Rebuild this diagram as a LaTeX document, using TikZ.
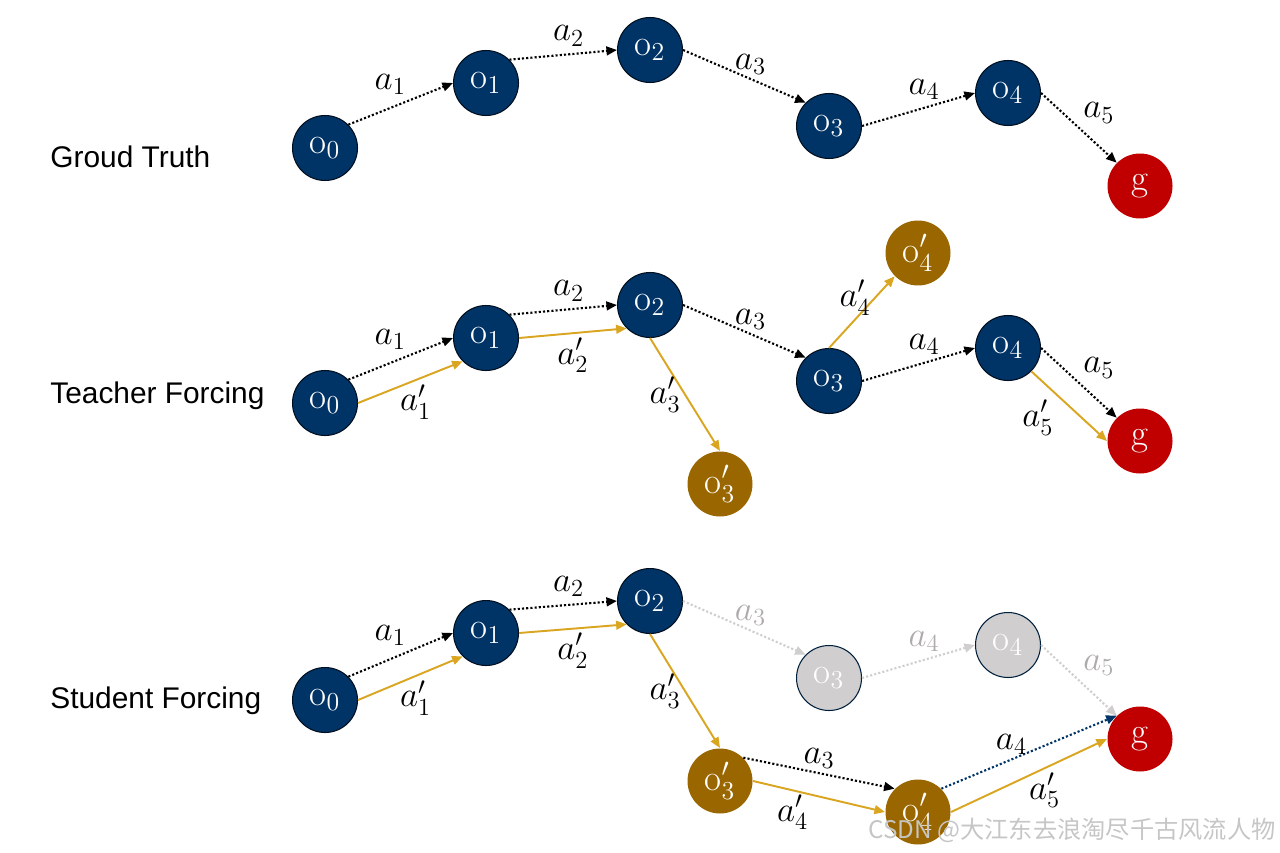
\documentclass[tikz,border=0pt]{standalone}
\usepackage{fix-cm}
\usepackage{fontspec}
\newfontfamily\arialfont{Liberation Sans}
\newfontfamily\cjkfont{Noto Sans CJK SC}
\usetikzlibrary{arrows.meta}

\definecolor{navy}{RGB}{0,51,102}
\definecolor{ochre}{RGB}{153,102,0}
\definecolor{gold}{RGB}{218,165,32}
\definecolor{goal}{RGB}{192,0,0}
\definecolor{ghost}{RGB}{208,206,206}
\definecolor{ghosttext}{RGB}{175,171,171}

\begin{document}
\begin{tikzpicture}[x=0.02cm, y=-0.02cm,
  obs/.style ={circle, draw=black!70!navy, line width=0.6pt, fill=navy,
               text=white, minimum size=1.3cm, inner sep=0pt,
               font=\fontsize{21}{24}\selectfont},
  pred/.style={obs, draw=none, fill=ochre},
  goalnode/.style={obs, draw=none, fill=goal},
  faded/.style={obs, fill=ghost, draw=navy!60!black},
  act/.style ={-{Triangle[length=6pt,width=5pt]}, line width=1.2pt,
               dash pattern=on 1.2pt off 1.2pt},
  alt/.style ={-{Triangle[length=6pt,width=5pt]}, line width=1.1pt, gold},
  lbl/.style ={font=\fontsize{20}{24}\selectfont, inner sep=2pt, text=black},
  row/.style ={anchor=west, inner sep=0pt,
               font=\arialfont\fontsize{17}{20}\selectfont},
]
\useasboundingbox (0,0) rectangle (1280,852);

% ground truth
\node[row]      (gt)  at (50,157)   {Groud Truth};
\node[obs]      (gt0) at (325,148)  {$\mathrm{o}_0$};
\node[obs]      (gt1) at (486,83)   {$\mathrm{o}_1$};
\node[obs]      (gt2) at (650,50)   {$\mathrm{o}_2$};
\node[obs]      (gt3) at (829,126)  {$\mathrm{o}_3$};
\node[obs]      (gt4) at (1008,93)  {$\mathrm{o}_4$};
\node[goalnode] (gtg) at (1140,186) {$\mathrm{g}$};

\draw[act] (gt0.45) -- node[lbl, pos=.4, above=5pt] {$a_1$} (gt1.180);
\draw[act] (gt1.45) -- node[lbl, pos=.55, above=2pt] {$a_2$} (gt2.180);
\draw[act] (gt2.0)  -- node[lbl, pos=.55, above]    {$a_3$} (gt3.135);
\draw[act] (gt3.0)  -- node[lbl, pos=.55, above=2pt] {$a_4$} (gt4.180);
\draw[act] (gt4.0)  -- node[lbl, above right]       {$a_5$} (gtg.135);

% teacher forcing
\node[row]      (tf)   at (50,396)   {Teacher Forcing};
\node[obs]      (tf0)  at (325,403)  {$\mathrm{o}_0$};
\node[obs]      (tf1)  at (486,338)  {$\mathrm{o}_1$};
\node[obs]      (tf2)  at (650,305)  {$\mathrm{o}_2$};
\node[obs]      (tf3)  at (829,381)  {$\mathrm{o}_3$};
\node[obs]      (tf4)  at (1008,348) {$\mathrm{o}_4$};
\node[goalnode] (tfg)  at (1140,441) {$\mathrm{g}$};
\node[pred]     (tf3p) at (720,484)  {$\mathrm{o}'_3$};
\node[pred]     (tf4p) at (918,253)  {$\mathrm{o}'_4$};

\draw[act] (tf0.45)  -- node[lbl, pos=.4, above=5pt]  {$a_1$}  (tf1.180);
\draw[alt] (tf0.0)   -- node[lbl, pos=.55, below]     {$a'_1$} (tf1.225);
\draw[act] (tf1.45)  -- node[lbl, pos=.55, above=2pt] {$a_2$}  (tf2.180);
\draw[alt] (tf1.0)   -- node[lbl, below]              {$a'_2$} (tf2.225);
\draw[act] (tf2.0)   -- node[lbl, pos=.55, above]     {$a_3$}  (tf3.135);
\draw[alt] (tf2.270) -- node[lbl, left]               {$a'_3$} (tf3p.90);
\draw[alt] (tf3.90)  -- node[lbl, pos=.7, left]       {$a'_4$} (tf4p.225);
\draw[act] (tf3.0)   -- node[lbl, pos=.55, above=2pt] {$a_4$}  (tf4.180);
\draw[act] (tf4.0)   -- node[lbl, above right]        {$a_5$}  (tfg.135);
\draw[alt] (tf4.315) -- node[lbl, pos=.35, below left] {$a'_5$} (tfg.180);

% student forcing
\node[row]      (sf)   at (50,701)   {Student Forcing};
\node[obs]      (sf0)  at (325,700)  {$\mathrm{o}_0$};
\node[obs]      (sf1)  at (486,633)  {$\mathrm{o}_1$};
\node[obs]      (sf2)  at (650,601)  {$\mathrm{o}_2$};
\node[faded]    (sf3)  at (829,678)  {$\mathrm{o}_3$};
\node[faded]    (sf4)  at (1008,645) {$\mathrm{o}_4$};
\node[goalnode] (sfg)  at (1140,739) {$\mathrm{g}$};
\node[pred]     (sf3p) at (720,781)  {$\mathrm{o}'_3$};
\node[pred]     (sf4p) at (918,812)  {$\mathrm{o}'_4$};

\draw[act] (sf0.45)  -- node[lbl, pos=.4, above=5pt]  {$a_1$}  (sf1.180);
\draw[alt] (sf0.0)   -- node[lbl, pos=.55, below]     {$a'_1$} (sf1.225);
\draw[act] (sf1.45)  -- node[lbl, pos=.55, above=2pt] {$a_2$}  (sf2.180);
\draw[alt] (sf1.0)   -- node[lbl, below]              {$a'_2$} (sf2.225);
\draw[act, ghost] (sf2.0) -- node[lbl, pos=.55, above, text=ghosttext] {$a_3$} (sf3.135);
\draw[act, ghost] (sf3.0) -- node[lbl, pos=.55, above=2pt, text=ghosttext] {$a_4$} (sf4.180);
\draw[act, ghost] (sf4.0) -- node[lbl, above right, text=ghosttext] {$a_5$} (sfg.135);
\draw[alt] (sf2.270)  -- node[lbl, left]           {$a'_3$} (sf3p.90);
\draw[act] (sf3p.45)  -- node[lbl, above]          {$a_3$}  (sf4p.135);
\draw[alt] (sf3p.0)   -- node[lbl, pos=.3, below]  {$a'_4$} (sf4p.180);
\draw[act, navy] (sf4p.45) -- node[lbl, pos=.4, above] {$a_4$} (sfg.135);
\draw[alt] (sf4p.0)   -- node[lbl, pos=.6, below]  {$a'_5$} (sfg.180);

\node[anchor=east, inner sep=0pt, text=gray!45,
      font=\cjkfont\fontsize{13.8}{16}\selectfont]
  (mark) at (1276,830) {CSDN @大江东去浪淘尽千古风流人物};
\end{tikzpicture}
\end{document}
